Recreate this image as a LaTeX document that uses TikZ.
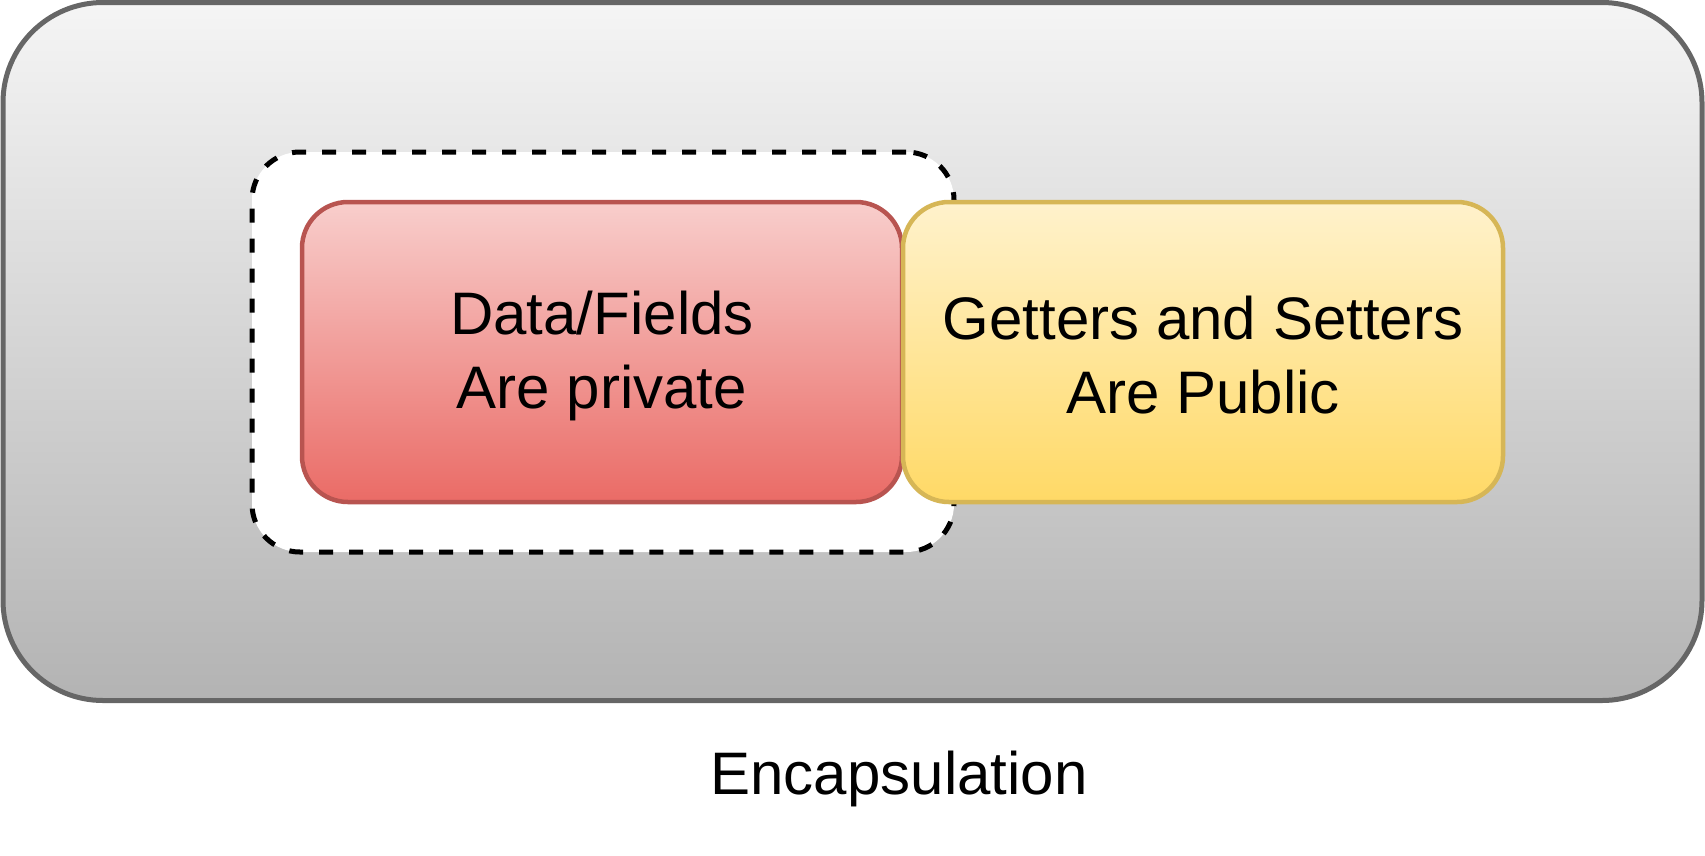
\documentclass[tikz,border=0pt]{standalone}
\usepackage{fontspec}
\setmainfont{Liberation Sans}
\begin{document}
\begin{tikzpicture}[x=1pt,y=-1pt,
  box/.style={rectangle, rounded corners=46pt, minimum width=600pt, minimum height=300pt,
    line width=4.5pt, align=center, inner sep=0pt},
  boxtext/.style={font=\fontsize{60}{74}\selectfont, align=center, inner sep=0pt},
  outerbox/.style={rectangle, rounded corners=100pt, minimum width=1699pt, minimum height=698pt,
    line width=5pt, draw=outergray, top color=outertop, bottom color=outerbot, inner sep=0pt},
  dashbox/.style={rectangle, rounded corners=48pt, minimum width=702pt, minimum height=400pt,
    line width=5pt, draw=black, fill=white, dash pattern=on 14pt off 16pt, inner sep=0pt},
  privbox/.style={box, draw=redstroke, top color=redtop, bottom color=redbot},
  pubbox/.style={box, draw=yelstroke, top color=yeltop, bottom color=yelbot},
  caption/.style={font=\fontsize{60}{72}\selectfont, inner sep=0pt}
]
\definecolor{outergray}{HTML}{666666}
\definecolor{outertop}{HTML}{F5F5F5}
\definecolor{outerbot}{HTML}{B3B3B3}
\definecolor{redstroke}{HTML}{B85450}
\definecolor{redtop}{HTML}{F8CECC}
\definecolor{redbot}{HTML}{EA6B66}
\definecolor{yelstroke}{HTML}{D6B656}
\definecolor{yeltop}{HTML}{FFF2CC}
\definecolor{yelbot}{HTML}{FFD966}
\useasboundingbox (0,0) rectangle (1705,855);
\node[outerbox] (outer) at (852.5,351.5) {};
\node[dashbox] (private) at (603,352) {};
\node[privbox] (data) at (602,352) {};
\node[pubbox] (access) at (1203,352) {};
\node[boxtext] (datatext) at ([yshift=-3.5pt]data.center) {Data/Fields\\Are private};
\node[boxtext] (accesstext) at ([yshift=-3.5pt]access.center) {Getters and Setters\\Are Public};
\node[caption] (label) at (899,779) {Encapsulation};
\end{tikzpicture}
\end{document}
